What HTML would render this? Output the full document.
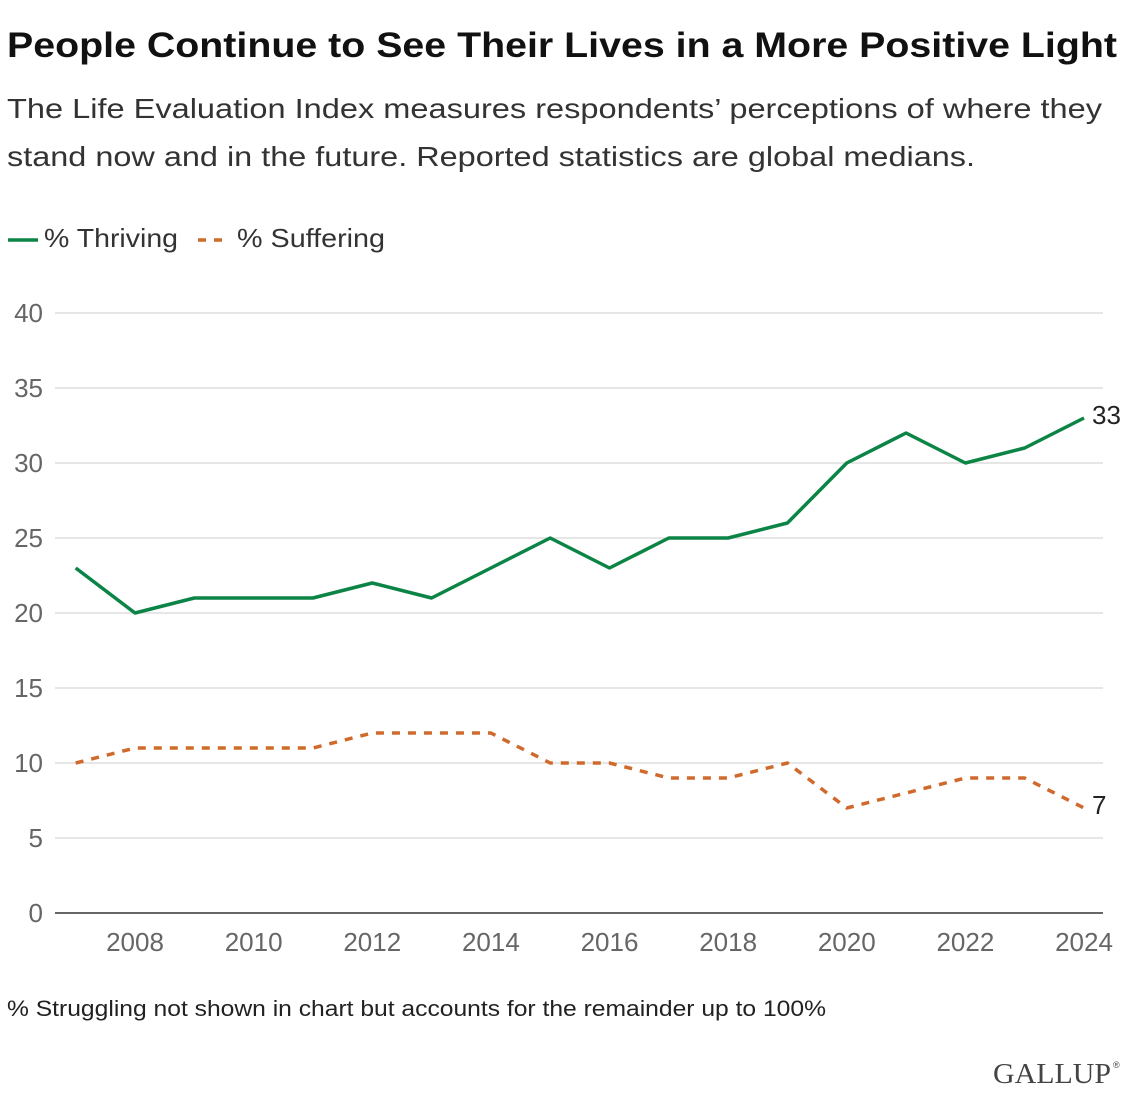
<!DOCTYPE html>
<html><head><meta charset="utf-8"><style>
body{margin:0;background:#fff;width:1126px;height:1095px;overflow:hidden;font-family:"Liberation Sans",sans-serif;}
</style></head><body>
<svg width="1126" height="1095" xmlns="http://www.w3.org/2000/svg" style="font-family:'Liberation Sans',sans-serif">
<text x="7" y="57" font-size="35" font-weight="bold" fill="#111" textLength="1110" lengthAdjust="spacingAndGlyphs">People Continue to See Their Lives in a More Positive Light</text>
<text x="7" y="118" font-size="28" fill="#333" textLength="1095" lengthAdjust="spacingAndGlyphs">The Life Evaluation Index measures respondents’ perceptions of where they</text>
<text x="7" y="166" font-size="28" fill="#333" textLength="968" lengthAdjust="spacingAndGlyphs">stand now and in the future. Reported statistics are global medians.</text>
<g>
<line x1="8" y1="240" x2="38" y2="240" stroke="#0b8446" stroke-width="3.5"/>
<text x="44" y="247" font-size="26" fill="#333" textLength="134" lengthAdjust="spacingAndGlyphs">% Thriving</text>
<line x1="198" y1="240" x2="230" y2="240" stroke="#d06a2c" stroke-width="3.5" stroke-dasharray="8,8"/>
<text x="237" y="247" font-size="26" fill="#333" textLength="148" lengthAdjust="spacingAndGlyphs">% Suffering</text>
</g>
<g id="plot"></g>
<text x="7" y="1016" font-size="22" fill="#222" textLength="819" lengthAdjust="spacingAndGlyphs">% Struggling not shown in chart but accounts for the remainder up to 100%</text>
<text x="993" y="1083" font-size="29" font-family="'Liberation Serif',serif" fill="#444" textLength="118" lengthAdjust="spacingAndGlyphs">GALLUP</text>
<text x="1113" y="1068" font-size="9" fill="#444">®</text>
</svg>
<script>
const years=[2007,2008,2009,2010,2011,2012,2013,2014,2015,2016,2017,2018,2019,2020,2021,2022,2023,2024];
const thriving=[23,20,21,21,21,22,21,23,25,23,25,25,26,30,32,30,31,33];
const suffering=[10,11,11,11,11,12,12,12,10,10,9,9,10,7,8,9,9,7];
const yTicks=[0,5,10,15,20,25,30,35,40];
const xTicks=[2008,2010,2012,2014,2016,2018,2020,2022,2024];
const NS="http://www.w3.org/2000/svg";
const g=document.getElementById('plot');
const x=v=>135+(v-2008)*(1084-135)/16;
const y=v=>913-v*15;
function mk(t,a){const e=document.createElementNS(NS,t);for(const k in a)e.setAttribute(k,a[k]);g.appendChild(e);return e;}
yTicks.forEach(t=>{
 const l=mk('line',{x1:55,x2:1103,y1:y(t),y2:y(t),stroke:t===0?'#333':'#d8d8d8','stroke-width':t===0?1.5:1.2});
 
 
 const tx=mk('text',{x:43,y:y(t)+9,'font-size':26,fill:'#666','text-anchor':'end'});tx.textContent=t;
 
 
});
xTicks.forEach(t=>{
 const tx=mk('text',{x:x(t),y:951,'font-size':26,fill:'#666','text-anchor':'middle'});tx.textContent=t;
 
 
});
function line(vals,col,dash,name){
 const p=mk('polyline',{points:vals.map((v,i)=>x(years[i])+','+y(v)).join(' '),fill:'none',stroke:col,'stroke-width':3.5,'stroke-linejoin':'round'});
 if(dash)p.setAttribute('stroke-dasharray',dash);
 
 
 const last=vals[vals.length-1];
 const t=mk('text',{x:x(years[years.length-1])+8,y:y(last)+6,'font-size':26,fill:'#222'});t.textContent=last;
 
 
}
line(suffering,'#d06a2c','8,8','suffering-line');
line(thriving,'#0b8446',null,'thriving-line');
</script>
</body></html>
